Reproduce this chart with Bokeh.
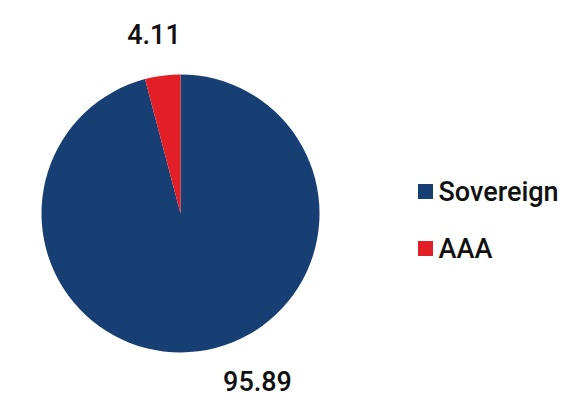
import math
from bokeh.plotting import figure
from bokeh.models import Range1d, ColumnDataSource
from bokeh.core.properties import value
from bokeh.embed import file_html
from bokeh.resources import INLINE

# ---- data ----
categories = ["Sovereign", "AAA"]
values = [95.89, 4.11]
colors = ["#173f73", "#e21e26"]

# ---- layout ----
W, H = 582, 411
cx, cy, R = 180, 198, 139
label_xy = {"Sovereign": (257, 31), "AAA": (153.5, 378)}
legend_x, legend_y0, legend_step = 425, 220, 57
FONT = "Roboto Medium, Roboto"

total = sum(values)
starts, ends = [], []
a = math.pi / 2
for v in values:
    starts.append(a)
    a = a - v / total * 2 * math.pi
    ends.append(a)

src = ColumnDataSource(dict(cat=categories, val=values, color=colors,
                            start=starts, end=ends))

p = figure(width=W, height=H, output_backend="svg", toolbar_location=None,
           x_range=Range1d(0, W), y_range=Range1d(0, H), min_border=0)
p.axis.visible = False
p.grid.visible = False
p.outline_line_color = None
p.background_fill_color = "white"

p.wedge(x=cx, y=cy, radius=R, start_angle="start", end_angle="end",
        direction="clock", fill_color="color", line_color=None, source=src)

# value labels
lx = [label_xy[c][0] for c in categories]
ly = [label_xy[c][1] for c in categories]
ltxt = ["%.2f" % v for v in values]
p.text(x=lx, y=ly, text=ltxt, text_font=value(FONT), text_font_size="27px",
       text_align="center", text_baseline="middle", text_color="#111111")

# legend
gy = [legend_y0 - i * legend_step for i in range(len(categories))]
p.rect(x=[legend_x] * len(categories), y=gy, width=15, height=15,
       fill_color=colors, line_color=None)
p.text(x=[legend_x + 13] * len(categories), y=gy, text=categories,
       text_font=value(FONT), text_font_size="27px",
       text_align="left", text_baseline="middle", text_color="#111111")

open("out.html", "w").write(file_html(p, INLINE))
